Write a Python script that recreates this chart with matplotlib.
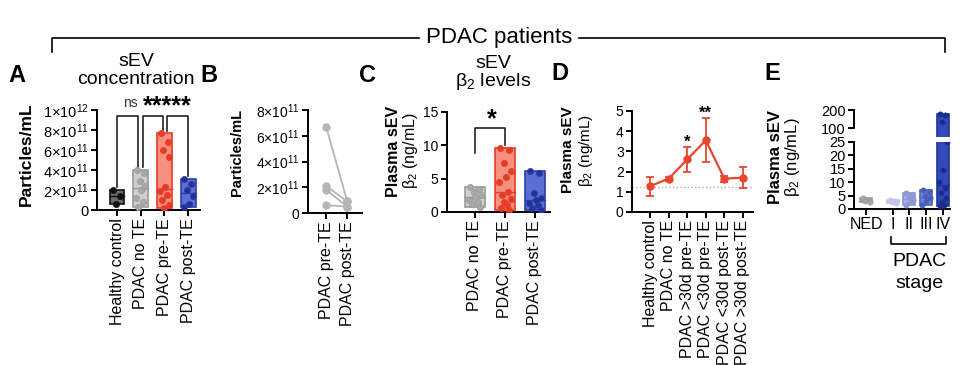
import numpy as np
import matplotlib
matplotlib.use("Agg")
import matplotlib.pyplot as plt
from matplotlib.lines import Line2D

plt.rcParams['font.family'] = ['Liberation Sans', 'DejaVu Sans']
plt.rcParams['mathtext.fontset'] = 'custom'
plt.rcParams['mathtext.rm'] = 'Liberation Sans'
plt.rcParams['mathtext.it'] = 'Liberation Sans:italic'
plt.rcParams['mathtext.bf'] = 'Liberation Sans:bold'
plt.rcParams['mathtext.default'] = 'regular'

# ---- data ----
# A: sEV concentration
a_groups = ["Healthy control", "PDAC no TE", "PDAC pre-TE", "PDAC post-TE"]
a_healthy = [2.0e11, 1.4e11, 0.6e11]
a_no_te = [4.0e11, 3.7e11, 2.9e11, 2.4e11, 2.0e11, 1.2e11, 0.8e11, 0.3e11]
a_pre_te = [7.7e11, 6.8e11, 6.0e11, 5.3e11, 2.3e11, 1.9e11, 1.5e11, 1.0e11, 0.5e11, 0.2e11]
a_post_te = [3.1e11, 2.6e11, 2.0e11, 1.4e11, 0.6e11, 0.3e11]
a_yticks = [0, 2e11, 4e11, 6e11, 8e11, 1e12]
a_yticklabels = ["0", r"$2{\times}10^{11}$", r"$4{\times}10^{11}$", r"$6{\times}10^{11}$",
                 r"$8{\times}10^{11}$", r"$1{\times}10^{12}$"]

# B: paired pre/post
b_groups = ["PDAC pre-TE", "PDAC post-TE"]
b_pre = [6.7e11, 2.1e11, 1.8e11, 0.6e11]
b_post = [0.9e11, 0.9e11, 0.5e11, 0.5e11]
b_yticks = [0, 2e11, 4e11, 6e11, 8e11]
b_yticklabels = ["0", r"$2{\times}10^{11}$", r"$4{\times}10^{11}$", r"$6{\times}10^{11}$",
                 r"$8{\times}10^{11}$"]

# C: sEV beta2 levels
c_groups = ["PDAC no TE", "PDAC pre-TE", "PDAC post-TE"]
c_no_te = [3.7, 3.4, 3.0, 2.6, 2.2, 1.8, 1.5, 1.2, 0.8]
c_pre_te = [9.6, 9.3, 7.4, 6.2, 5.2, 4.5, 3.0, 2.6, 2.0, 1.5, 1.0, 0.6, 0.3]
c_post_te = [6.2, 5.8, 2.8, 2.1, 1.8, 1.3, 1.0, 0.6, 0.3]

# D: mean +/- error by time point
d_groups = ["Healthy control", "PDAC no TE", "PDAC >30d pre-TE", "PDAC <30d pre-TE",
            "PDAC <30d post-TE", "PDAC >30d post-TE"]
d_mean = [1.28, 1.65, 2.6, 3.55, 1.65, 1.7]
d_err = [0.47, 0.1, 0.62, 1.08, 0.15, 0.52]
d_baseline = 1.25
d_stars = ["", "", "*", "**", "", ""]

# E: by stage
e_groups = ["NED", "I", "II", "III", "IV"]
e_ned = [4.0, 3.4, 2.8, 2.5]
e_i = [3.5, 3.0, 2.6, 2.2]
e_ii = [6.0, 5.2, 4.4, 3.2, 2.5, 1.5]
e_iii = [7.2, 6.5, 5.0, 4.2, 2.8, 1.5]
e_iv = [180, 170, 135, 25, 14.5, 10, 8, 6, 4, 2.5, 1.5, 1.0]

# ---- layout helpers (pixel coords of the 960x365 canvas) ----
W, H = 960, 365
fig = plt.figure(figsize=(9.6, 3.65), dpi=100)


def px_axes(x0, y0, x1, y1):
    return fig.add_axes([x0 / W, 1 - y1 / H, (x1 - x0) / W, (y1 - y0) / H])


def px_text(x, y, s, **kw):
    fig.text(x / W, 1 - y / H, s, **kw)


def px_line(xs, ys, **kw):
    fig.add_artist(Line2D([x / W for x in xs], [1 - y / H for y in ys],
                          color="black", lw=1.2, **kw))


def style(ax, size=10):
    for s in ["top", "right"]:
        ax.spines[s].set_visible(False)
    for s in ["left", "bottom"]:
        ax.spines[s].set_linewidth(1.4)
    ax.tick_params(width=1.4, length=4, labelsize=size, pad=2)


OFFS = [-0.18, 0.15, -0.05, 0.22, 0.02, -0.22, 0.1, -0.12, 0.2, -0.02, 0.08, -0.16, 0.14]


def float_bars(ax, xs, groups, fills, edges, dots, width=0.62, dot_size=20):
    for x, vals, fc, ec, dc in zip(xs, groups, fills, edges, dots):
        lo, hi = min(vals), max(vals)
        ax.bar(x, hi - lo, bottom=lo, width=width, color=fc, edgecolor=ec, lw=1.2, zorder=1)
        med = np.median(vals)
        ax.plot([x - width / 2, x + width / 2], [med, med], color=ec, lw=1.0, zorder=2)
        off = np.array(OFFS[:len(vals)]) * width * 1.4
        ax.scatter(x + off, vals, s=dot_size, color=dc, edgecolor=ec, lw=0.5, zorder=3)


# ---- A ----
ax = px_axes(97, 110, 200, 210)
style(ax, 10.5)
float_bars(ax, range(4), [a_healthy, a_no_te, a_pre_te, a_post_te],
           ["#6b6b6b", "#cfcfcf", "#f8907e", "#5a6fd0"],
           ["#111111", "#9a9a9a", "#e63b28", "#2a3fa8"],
           ["#111111", "#a8a8a8", "#e63b28", "#1f339a"])
ax.set_xlim(-0.85, 3.5)
ax.set_ylim(0, 1e12)
ax.set_yticks(a_yticks)
ax.set_yticklabels(a_yticklabels)
ax.set_xticks(range(4))
ax.set_xticklabels(a_groups, rotation=90, fontsize=11.5)
# significance brackets
for (x0, x1, y0, y1) in [(0.0, 0.9, 2.3e11, 4.3e11), (1.1, 1.95, 4.3e11, 7.9e11),
                         (2.1, 3.0, 7.9e11, 3.4e11)]:
    ax.plot([x0, x0, x1, x1], [y0, 9.4e11, 9.4e11, y1], color="#222", lw=1.2, clip_on=False)
ax.text(0.55, 1.07e12, "ns", ha="center", va="center", fontsize=10, color="#333")
ax.text(2.12, 1.04e12, "*****", ha="center", va="center", fontsize=18, fontweight="bold")

px_text(17, 75, "A", fontsize=17, fontweight="bold", ha="center", va="center")
px_text(136, 62, "sEV", fontsize=14, ha="center", va="center")
px_text(136, 79, "concentration", fontsize=14, ha="center", va="center")
px_text(26, 154, "Particles/mL", fontsize=12.5, fontweight="bold", rotation=90,
        ha="center", va="center")

# ---- B ----
ax = px_axes(308, 110, 362, 213)
style(ax, 10)
for p, q in zip(b_pre, b_post):
    ax.plot([0, 1], [p, q], color="#b5b5b5", lw=1.3, marker="o", ms=5, zorder=2)
ax.set_xlim(-0.86, 1.7)
ax.set_ylim(0, 8e11)
ax.set_yticks(b_yticks)
ax.set_yticklabels(b_yticklabels)
ax.set_xticks([0, 1])
ax.set_xticklabels(b_groups, rotation=90, fontsize=11.5)
px_text(209, 76, "B", fontsize=17, fontweight="bold", ha="center", va="center")
px_text(237, 152, "Particles/mL", fontsize=10.5, fontweight="bold", rotation=90,
        ha="center", va="center")

# ---- C ----
ax = px_axes(447, 112, 550, 212)
style(ax)
float_bars(ax, range(3), [c_no_te, c_pre_te, c_post_te],
           ["#cfcfcf", "#f8907e", "#5a6fd0"],
           ["#9a9a9a", "#e63b28", "#2a3fa8"],
           ["#a8a8a8", "#e63b28", "#1f339a"], width=0.66)
ax.set_xlim(-0.93, 2.5)
ax.set_ylim(0, 15)
ax.set_yticks([0, 5, 10, 15])
ax.set_xticks(range(3))
ax.set_xticklabels(c_groups, rotation=90, fontsize=11.5)
ax.plot([0, 0, 1, 1], [8.8, 12.6, 12.6, 10.0], color="#222", lw=1.2)
ax.text(0.55, 13.9, "*", ha="center", va="center", fontsize=18, fontweight="bold")
px_text(367, 75, "C", fontsize=17, fontweight="bold", ha="center", va="center")
px_text(493, 63, "sEV", fontsize=14, ha="center", va="center")
px_text(493, 82, "β$_2$ levels", fontsize=14, ha="center", va="center")
px_text(394, 151, "Plasma sEV", fontsize=11.5, fontweight="bold", rotation=90,
        ha="center", va="center")
px_text(411, 151, "β$_2$ (ng/mL)", fontsize=11.5, rotation=90, ha="center", va="center")

# ---- D ----
ax = px_axes(632, 111, 753, 212)
style(ax)
xs = np.arange(len(d_groups))
ax.axhline(d_baseline, color="#b0b0b0", lw=1.0, ls=":", zorder=0)
ax.errorbar(xs, d_mean, yerr=d_err, color="#e8452f", lw=1.6, marker="o", ms=5,
            capsize=3, capthick=1.3, elinewidth=1.3)
for x, m, e, s in zip(xs, d_mean, d_err, d_stars):
    if s:
        ax.text(x, m + e + 0.25, s, ha="center", va="center", fontsize=12,
                fontweight="bold", clip_on=False)
ax.set_xlim(-0.97, 5.54)
ax.set_ylim(0, 5)
ax.set_yticks(range(6))
ax.set_xticks(xs)
ax.set_xticklabels(d_groups, rotation=90, fontsize=11.5)
px_text(560, 74, "D", fontsize=17, fontweight="bold", ha="center", va="center")
px_text(568, 150, "Plasma sEV", fontsize=11, fontweight="bold", rotation=90,
        ha="center", va="center")
px_text(586, 150, "β$_2$ (ng/mL)", fontsize=11, rotation=90, ha="center", va="center")

# ---- E (broken y axis) ----
e_x = [0, 1.6, 2.6, 3.6, 4.6]
e_vals = [e_ned, e_i, e_ii, e_iii, e_iv]
e_fill = ["#bdbdbd", "#d9dcf0", "#a9b2e0", "#7585d0", "#3249b8"]
e_edge = ["#9a9a9a", "#c0c4e6", "#8c97d4", "#4f62bf", "#1f339a"]
e_dot = ["#a8a8a8", "#c4c8ea", "#8e99d6", "#4a5bb8", "#1a2c8e"]

lo_ax = px_axes(854, 142, 950, 209)
hi_ax = px_axes(854, 110, 950, 137)
for a in (lo_ax, hi_ax):
    style(a, 10.5)
    float_bars(a, e_x, e_vals, e_fill, e_edge, e_dot, width=0.72, dot_size=14)
    a.set_xlim(-0.72, 5.03)
lo_ax.set_ylim(0, 25)
lo_ax.set_yticks([0, 5, 10, 15, 20, 25])
lo_ax.set_xticks(e_x)
lo_ax.set_xticklabels(e_groups, fontsize=11.5)
hi_ax.set_ylim(50, 200)
hi_ax.set_yticks([100, 200])
hi_ax.spines["left"].set_bounds(100, 200)
hi_ax.spines["bottom"].set_visible(False)
hi_ax.set_xticks([])
px_text(772, 73, "E", fontsize=17, fontweight="bold", ha="center", va="center")
px_text(775, 157, "Plasma sEV", fontsize=12, fontweight="bold", rotation=90,
        ha="center", va="center")
px_text(793, 157, "β$_2$ (ng/mL)", fontsize=12, rotation=90, ha="center", va="center")

# stage bracket under E
px_line([891, 891, 946, 946], [237, 244, 244, 237])
px_text(919, 262, "PDAC", fontsize=14, ha="center", va="center")
px_text(919, 283, "stage", fontsize=14, ha="center", va="center")

# top "PDAC patients" bracket
px_line([52, 52, 419], [52, 38, 38])
px_line([579, 945, 945], [38, 38, 52])
px_text(499, 37, "PDAC patients", fontsize=16, ha="center", va="center")

fig.savefig("out.png", dpi=100)
